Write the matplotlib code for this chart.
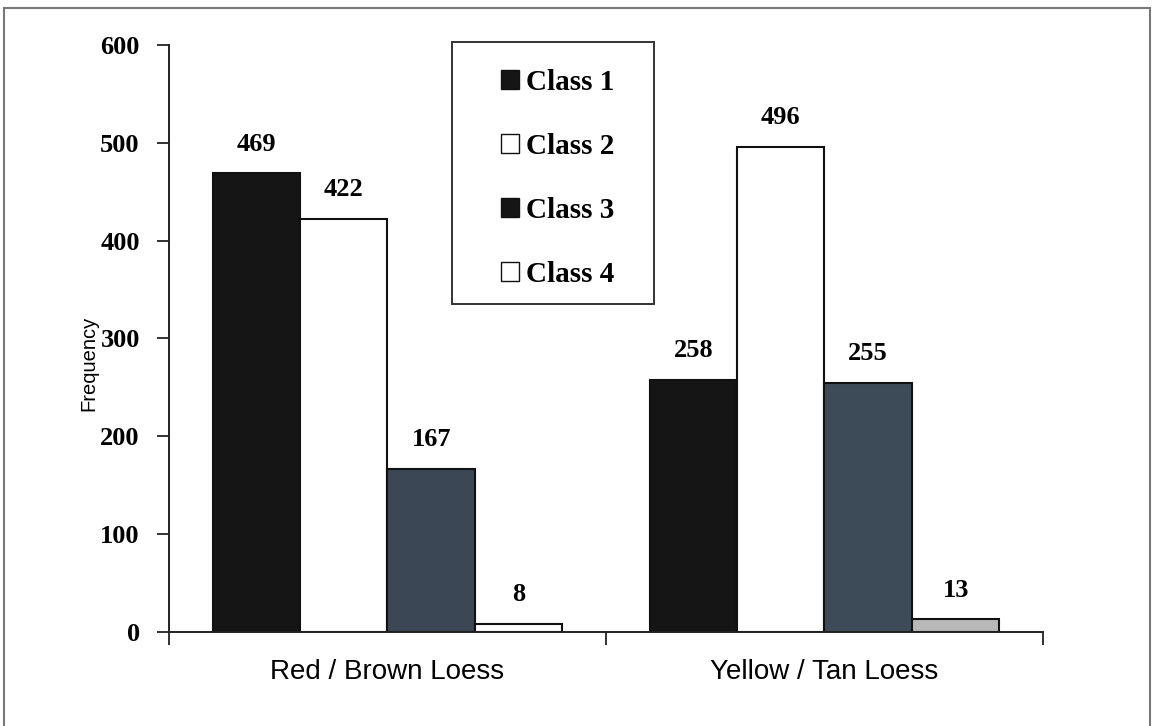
import numpy as np
import matplotlib.pyplot as plt
from matplotlib.patches import Patch, Rectangle

groups = ['Red / Brown Loess', 'Yellow / Tan Loess']
classes = ['Class 1', 'Class 2', 'Class 3', 'Class 4']
counts = {
    'Class 1': [469, 258],
    'Class 2': [422, 496],
    'Class 3': [167, 255],
    'Class 4': [8, 13],
}
# fill per bar (Red/Brown, Yellow/Tan)
fills = {
    'Class 1': ['#151515', '#151515'],
    'Class 2': ['white', 'white'],
    'Class 3': ['#3b4755', '#3d4b59'],
    'Class 4': ['white', '#b8b8b8'],
}
legend_fills = ['#151515', 'white', '#151515', 'white']

serif = 'Liberation Serif'
sans = 'Liberation Sans'

fig = plt.figure(figsize=(11.55, 7.26), dpi=100)
ax = fig.add_axes([0.1463, 0.1295, 0.7567, 0.8085])

x = np.arange(len(groups))
width = 0.2
for i, cls in enumerate(classes):
    offs = (i - 1.5) * width
    bars = ax.bar(x + offs, counts[cls], width, color=fills[cls],
                  edgecolor='#111111', linewidth=1.5)
    for b, v in zip(bars, counts[cls]):
        ax.annotate(str(v), (b.get_x() + b.get_width() / 2, v),
                    xytext=(0, 21), textcoords='offset points',
                    ha='center', va='center', family=serif,
                    fontweight='bold', fontsize=19)

ax.set_xlim(-0.5, 1.5)
ax.set_ylim(0, 600)
ax.set_yticks(np.arange(0, 601, 100))
ax.set_yticklabels([str(v) for v in range(0, 601, 100)], family=serif,
                   fontweight='bold', fontsize=19)
ax.set_xticks([-0.5, 0.5, 1.5])
ax.set_xticklabels([])
ax.tick_params(axis='both', direction='out', length=9, width=1.3,
               color='#222222')
ax.tick_params(axis='y', pad=12)
for i, g in enumerate(groups):
    ax.text(x[i], -0.068, g, transform=ax.get_xaxis_transform(),
            ha='center', va='center', family=sans, fontsize=20)

ax.spines['top'].set_visible(False)
ax.spines['right'].set_visible(False)
for s in ('left', 'bottom'):
    ax.spines[s].set_linewidth(1.4)
    ax.spines[s].set_color('#222222')

fig.text(0.077, 0.5, 'Frequency', rotation=90, ha='center', va='center',
         family=sans, fontsize=14.5)

handles = [Patch(facecolor=c, edgecolor='#111111', linewidth=1.0)
           for c in legend_fills]
leg = fig.legend(handles, classes, loc='upper left',
                 bbox_to_anchor=(501 / 1155, 1 - 69 / 726), frameon=False,
                 prop={'family': serif, 'weight': 'bold', 'size': 21},
                 handlelength=0.62, handleheight=0.62, handletextpad=0.25,
                 labelspacing=1.27, borderpad=0, borderaxespad=0)

# legend box
fig.patches.append(Rectangle((452 / 1155, 1 - 304 / 726), 202 / 1155,
                             262 / 726, transform=fig.transFigure,
                             fill=False, edgecolor='#333333', linewidth=1.4))

# page border round the figure
fig.patches.append(Rectangle((4 / 1155, -0.05), 1146 / 1155, 1.05 - 8 / 726,
                             transform=fig.transFigure, fill=False,
                             edgecolor='#777777', linewidth=1.5))

fig.savefig('out.png', dpi=100)
